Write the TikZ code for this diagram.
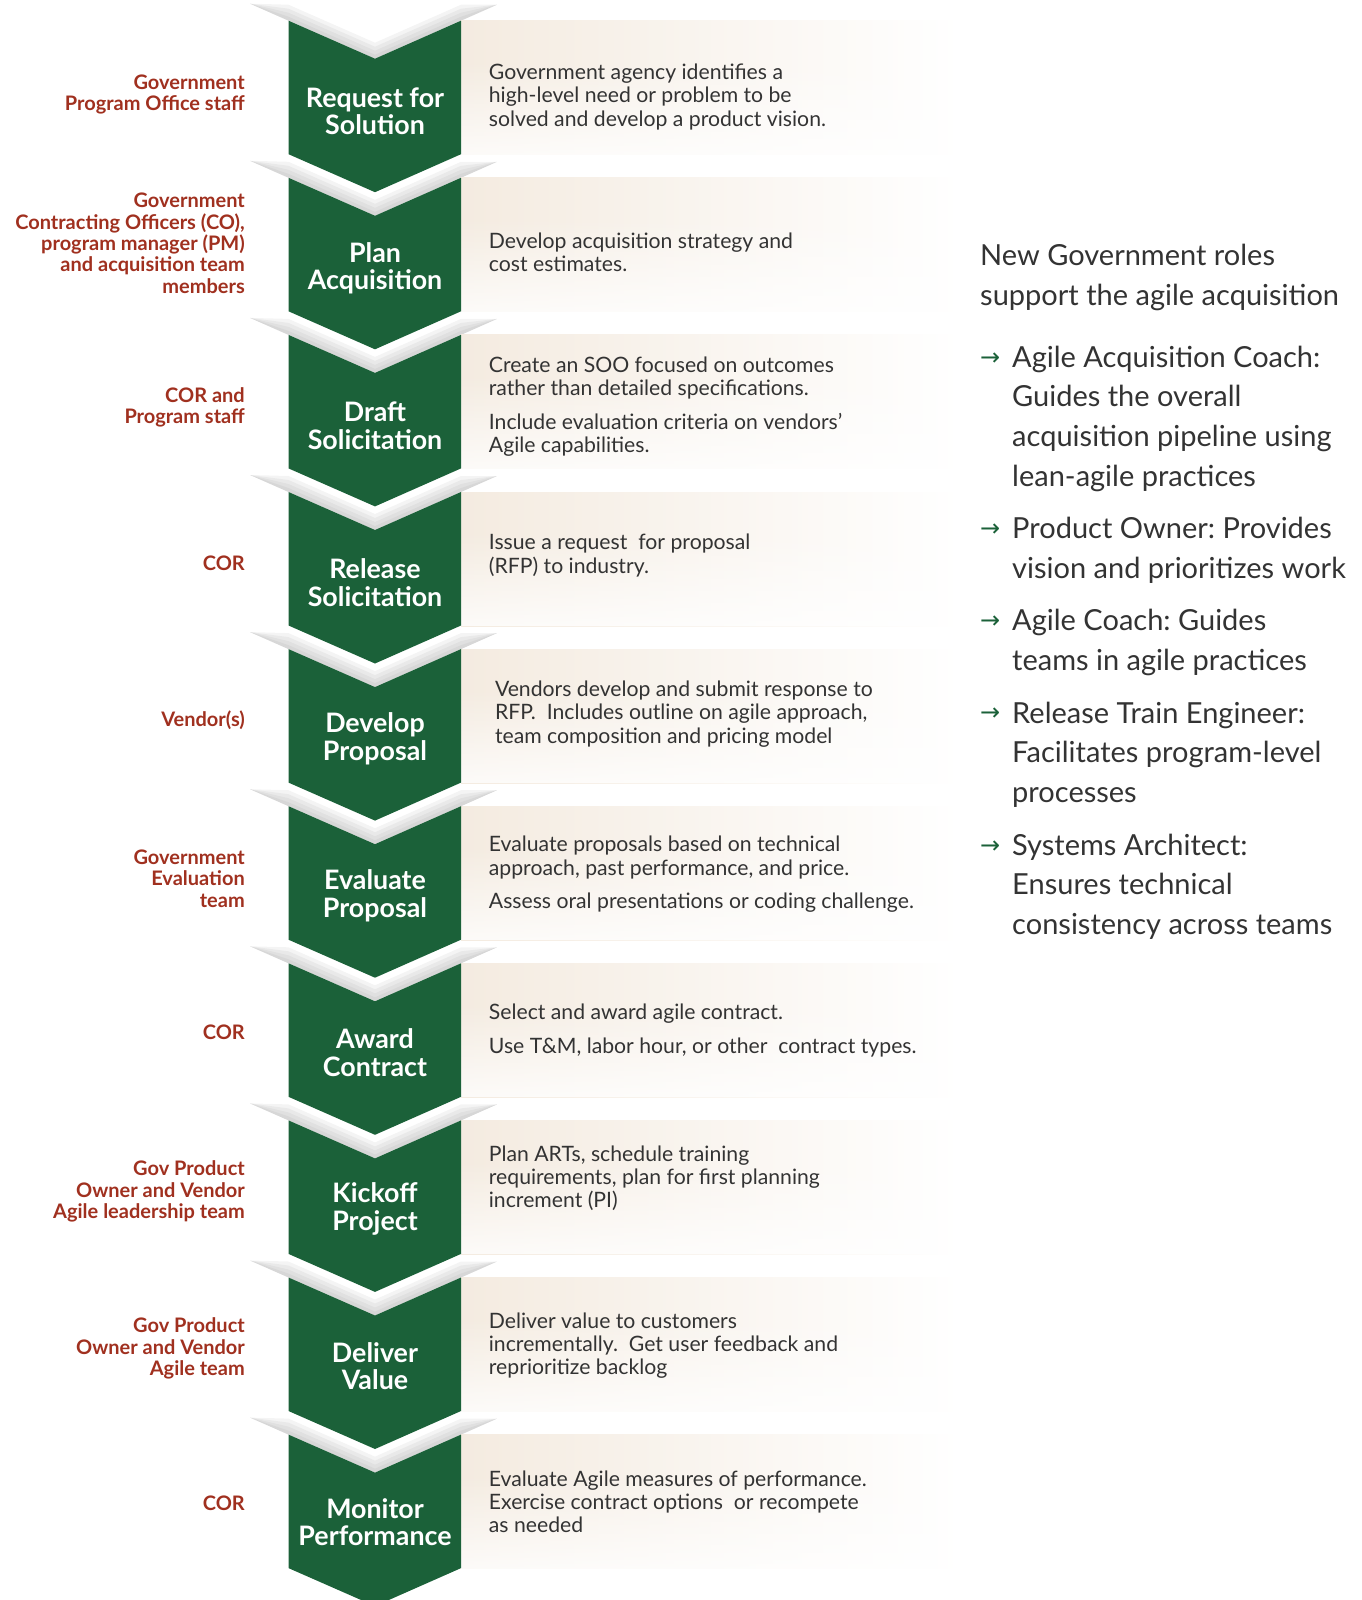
\documentclass[tikz,border=0pt]{standalone}
\usepackage{fontspec}
\setmainfont{Lato}
\newfontfamily\arrowfont{DejaVu Sans}
\usetikzlibrary{fadings}
\frenchspacing

\definecolor{chevgreen}{HTML}{1B6139}
\definecolor{rolered}{HTML}{A0301F}
\definecolor{boxbeige}{HTML}{F4EBE0}
\definecolor{bodygray}{HTML}{333333}

\begin{document}
\begin{tikzpicture}[x=1pt, y=-1pt,
    steplabel/.style={text=white, font=\bfseries\fontsize{26.8}{27.7}\selectfont, align=center, inner sep=0pt},
    rolelabel/.style={anchor=east, text=rolered, font=\bfseries\fontsize{20}{21.4}\selectfont, align=right, inner sep=0pt},
    steptext/.style={anchor=west, text=bodygray, font=\fontsize{21.2}{23.4}\selectfont, align=left, inner sep=0pt},
    rolehead/.style={anchor=west, text=bodygray, font=\fontsize{29}{40.5}\selectfont, align=left, inner sep=0pt},
    roleitem/.style={anchor=west, text=bodygray, font=\fontsize{29}{39.7}\selectfont, align=left, inner sep=0pt},
    rolearrow/.style={anchor=west, text=chevgreen, font=\arrowfont\fontsize{24}{24}\selectfont, inner sep=0pt}]

  \useasboundingbox (0,0) rectangle (1361,1600);

  \foreach \i in {0,...,9} {
    \pgfmathsetmacro\t{20.7+157.1*\i}
    \foreach \w in {16,12,8,4}
      \fill[gray, opacity=0.09] (250,\t-17) -- (288.5,\t) -- (375,\t+38) -- (461,\t) -- (497,\t-16)
        -- (461,\t-\w) -- (375,\t+38-\w) -- (288.5,\t-\w) -- cycle;
    \shade[left color=boxbeige, right color=white] (461,\t) rectangle (960,\t+134);
    \fill[white, opacity=0.8, path fading=north] (461,\t+40) rectangle (960,\t+134);
    \fill[chevgreen] (288.5,\t) -- (375,\t+38) -- (461,\t) -- (461,\t+133.5)
      -- (375,\t+171.5) -- (288.5,\t+133.5) -- cycle;
  }

  \node[steplabel] (step1) at (375,111.2) {Request for\\Solution};
  \node[steplabel] (step2) at (375,268.3) {Plan\\Acquisition};
  \node[steplabel] (step3) at (375,425.4) {Draft\\Solicitation};
  \node[steplabel] (step4) at (375,582.5) {Release\\Solicitation};
  \node[steplabel] (step5) at (375,738.6) {Develop\\Proposal};
  \node[steplabel] (step6) at (375,895.7) {Evaluate\\Proposal};
  \node[steplabel] (step7) at (375,1052.9) {Award\\Contract};
  \node[steplabel] (step8) at (375,1208.9) {Kickoff\\Project};
  \node[steplabel] (step9) at (375,1366.0) {Deliver\\Value};
  \node[steplabel] (step10) at (375,1522.1) {Monitor\\Performance};

  \node[rolelabel] (who1) at (245,94.4) {Government\\Program Office staff};
  \node[rolelabel] (who2) at (245,243.3) {Government\\Contracting Officers (CO),\\program manager (PM)\\and acquisition team\\members};
  \node[rolelabel] (who3) at (245,407.1) {COR and\\Program staff};
  \node[rolelabel] (who4) at (245,563.2) {COR};
  \node[rolelabel] (who5) at (245,720.3) {Vendor(s)};
  \node[rolelabel] (who6) at (245,878.4) {Government\\Evaluation\\team};
  \node[rolelabel] (who7) at (245,1032.4) {COR};
  \node[rolelabel] (who8) at (245,1191.6) {Gov Product\\Owner and Vendor\\Agile leadership team};
  \node[rolelabel] (who9) at (245,1348.7) {Gov Product\\Owner and Vendor\\Agile team};
  \node[rolelabel] (who10) at (245,1502.8) {COR};

  \node[steptext] (what1) at (488.7,97) {Government agency identifies a\\high-level need or problem to be\\solved and develop a product vision.};
  \node[steptext] (what2) at (488.7,252.5) {Develop acquisition strategy and\\cost estimates.};
  \node[steptext] (what3) at (488.7,406.6) {Create an SOO focused on outcomes\\rather than detailed specifications.\\[10pt]Include evaluation criteria on vendors’\\Agile capabilities.};
  \node[steptext] (what4) at (488.7,555.5) {Issue a request\ \ for proposal\\(RFP) to industry.};
  \node[steptext] (what5) at (494.8,714.1) {Vendors develop and submit response to\\RFP.\ \ Includes outline on agile approach,\\team composition and pricing model};
  \node[steptext] (what6) at (488.7,874.4) {Evaluate proposals based on technical\\approach, past performance, and price.\\[10pt]Assess oral presentations or coding challenge.};
  \node[steptext] (what7) at (488.7,1030.4) {Select and award agile contract.\\[11pt]Use T\&M, labor hour, or other\ \ contract types.};
  \node[steptext] (what8) at (488.7,1178.3) {Plan ARTs, schedule training\\requirements, plan for first planning\\increment (PI)};
  \node[steptext] (what9) at (488.7,1345.6) {Deliver value to customers\\incrementally.\ \ Get user feedback and\\reprioritize backlog};
  \node[steptext] (what10) at (488.7,1501.7) {Evaluate Agile measures of performance.\\Exercise contract options\ \ or recompete\\as needed};

  \node[rolehead] (newroles) at (980,277.5) {New Government roles\\support the agile acquisition};

  \node[rolearrow] (ar1) at (980,359) {→};
  \node[roleitem] (role1) at (1012,418.8) {Agile Acquisition Coach:\\Guides the overall\\acquisition pipeline using\\lean-agile practices};
  \node[rolearrow] (ar2) at (980,530.5) {→};
  \node[roleitem] (role2) at (1012,550.3) {Product Owner: Provides\\vision and prioritizes work};
  \node[rolearrow] (ar3) at (980,622) {→};
  \node[roleitem] (role3) at (1012,642.5) {Agile Coach: Guides\\teams in agile practices};
  \node[rolearrow] (ar4) at (980,714) {→};
  \node[roleitem] (role4) at (1012,754.5) {Release Train Engineer:\\Facilitates program-level\\processes};
  \node[rolearrow] (ar5) at (980,847) {→};
  \node[roleitem] (role5) at (1012,886.5) {Systems Architect:\\Ensures technical\\consistency across teams};
\end{tikzpicture}
\end{document}
